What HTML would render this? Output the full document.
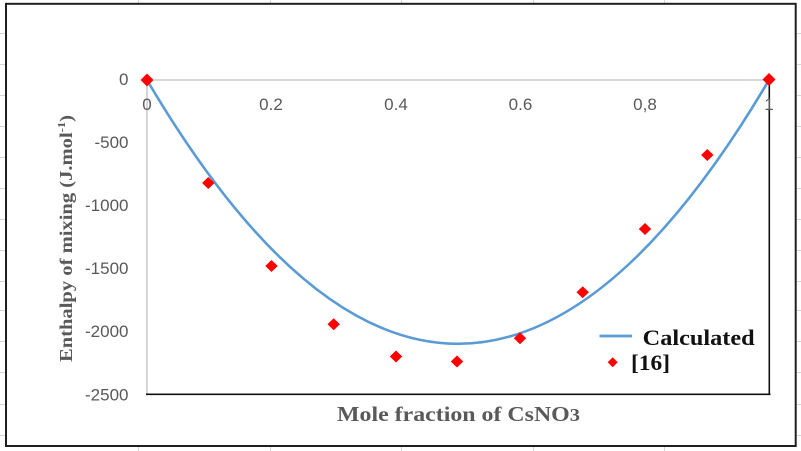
<!DOCTYPE html>
<html>
<head>
<meta charset="utf-8">
<style>
  html, body { margin: 0; padding: 0; background: #ffffff; }
  body { width: 801px; height: 451px; overflow: hidden; }
  svg { display: block; }
  .tick { font-family: "Liberation Sans", "DejaVu Sans", sans-serif; font-size: 17px; fill: #595959; }
  .title { font-family: "Liberation Serif", "DejaVu Serif", serif; font-weight: bold; fill: #595959; }
  .leg { font-family: "Liberation Serif", "DejaVu Serif", serif; font-weight: bold; fill: #111111; }
</style>
</head>
<body>
<svg width="801" height="451" viewBox="0 0 801 451" xmlns="http://www.w3.org/2000/svg">
  <rect x="0" y="0" width="801" height="451" fill="#ffffff"/>
  <!-- faint spreadsheet grid outside chart -->
  <g stroke="#d6d6d6" stroke-width="1">
    <line x1="138.5" y1="0" x2="138.5" y2="3"/>
    <line x1="270.5" y1="0" x2="270.5" y2="3"/>
    <line x1="401.5" y1="0" x2="401.5" y2="3"/>
    <line x1="533.5" y1="0" x2="533.5" y2="3"/>
    <line x1="664.5" y1="0" x2="664.5" y2="3"/>
    <line x1="138.5" y1="447" x2="138.5" y2="451"/>
    <line x1="270.5" y1="447" x2="270.5" y2="451"/>
    <line x1="401.5" y1="447" x2="401.5" y2="451"/>
    <line x1="533.5" y1="447" x2="533.5" y2="451"/>
    <line x1="664.5" y1="447" x2="664.5" y2="451"/>
    <line x1="0" y1="33.5" x2="5" y2="33.5"/><line x1="797" y1="33.5" x2="801" y2="33.5"/>
    <line x1="0" y1="64.5" x2="5" y2="64.5"/><line x1="797" y1="64.5" x2="801" y2="64.5"/>
    <line x1="0" y1="95.5" x2="5" y2="95.5"/><line x1="797" y1="95.5" x2="801" y2="95.5"/>
    <line x1="0" y1="126.5" x2="5" y2="126.5"/><line x1="797" y1="126.5" x2="801" y2="126.5"/>
    <line x1="0" y1="157.5" x2="5" y2="157.5"/><line x1="797" y1="157.5" x2="801" y2="157.5"/>
    <line x1="0" y1="188.5" x2="5" y2="188.5"/><line x1="797" y1="188.5" x2="801" y2="188.5"/>
    <line x1="0" y1="219.5" x2="5" y2="219.5"/><line x1="797" y1="219.5" x2="801" y2="219.5"/>
    <line x1="0" y1="250.5" x2="5" y2="250.5"/><line x1="797" y1="250.5" x2="801" y2="250.5"/>
    <line x1="0" y1="281.5" x2="5" y2="281.5"/><line x1="797" y1="281.5" x2="801" y2="281.5"/>
    <line x1="0" y1="310.5" x2="5" y2="310.5"/><line x1="797" y1="310.5" x2="801" y2="310.5"/>
    <line x1="0" y1="341.5" x2="5" y2="341.5"/><line x1="797" y1="341.5" x2="801" y2="341.5"/>
    <line x1="0" y1="372.5" x2="5" y2="372.5"/><line x1="797" y1="372.5" x2="801" y2="372.5"/>
    <line x1="0" y1="404.5" x2="5" y2="404.5"/><line x1="797" y1="404.5" x2="801" y2="404.5"/>
    <line x1="0" y1="435.5" x2="5" y2="435.5"/><line x1="797" y1="435.5" x2="801" y2="435.5"/>
  </g>
  <!-- chart border -->
  <rect x="6" y="3.8" width="789.7" height="442.2" fill="#ffffff" stroke="#1f1f1f" stroke-width="2"/>

  <!-- axes -->
  <line x1="147" y1="80" x2="769" y2="80" stroke="#c0c0c0" stroke-width="1.3"/>
  <line x1="147" y1="80" x2="147" y2="394" stroke="#c0c0c0" stroke-width="1.3"/>
  <line x1="146" y1="394.3" x2="770.5" y2="394.3" stroke="#111111" stroke-width="1.6"/>
  <line x1="769.3" y1="80" x2="769.3" y2="395" stroke="#111111" stroke-width="1.6"/>

  <!-- y tick labels -->
  <g class="tick" text-anchor="end">
    <text x="128.5" y="85">0</text>
    <text x="128.5" y="148">-500</text>
    <text x="128.5" y="211">-1000</text>
    <text x="128.5" y="274">-1500</text>
    <text x="128.5" y="337">-2000</text>
    <text x="128.5" y="400.5">-2500</text>
  </g>
  <!-- x tick labels -->
  <g class="tick" text-anchor="middle">
    <text x="147" y="110">0</text>
    <text x="271" y="110">0.2</text>
    <text x="396" y="110">0.4</text>
    <text x="520.5" y="110">0.6</text>
    <text x="645" y="110">0,8</text>
    <text x="769" y="110">1</text>
  </g>

  <!-- axis titles -->
  <text class="title" font-size="18" transform="translate(72,362) rotate(-90)" textLength="247" lengthAdjust="spacingAndGlyphs">Enthalpy of mixing (J.mol<tspan font-size="11" dy="-7">-1</tspan><tspan dy="7">)</tspan></text>
  <text class="title" font-size="21" x="337" y="421" textLength="243" lengthAdjust="spacingAndGlyphs">Mole fraction of CsNO<tspan font-size="18">3</tspan></text>

  <!-- calculated curve -->
  <path d="M147,80 Q458,607.6 769,80" fill="none" stroke="#5b9bd5" stroke-width="2.6"/>

  <!-- data markers -->
  <g fill="#ff0000">
    <path d="M147,73.5 L153.5,80 L147,86.5 L140.5,80 Z"/>
    <path d="M208.3,177 L214.5,183 L208.3,189 L202.1,183 Z"/>
    <path d="M271.5,260 L277.7,266 L271.5,272 L265.3,266 Z"/>
    <path d="M333.7,318.3 L339.9,324.3 L333.7,330.3 L327.5,324.3 Z"/>
    <path d="M396,350.5 L402.2,356.5 L396,362.5 L389.8,356.5 Z"/>
    <path d="M457,355.5 L463.2,361.5 L457,367.5 L450.8,361.5 Z"/>
    <path d="M520,332.3 L526.2,338.3 L520,344.3 L513.8,338.3 Z"/>
    <path d="M582.7,286.3 L588.9,292.3 L582.7,298.3 L576.5,292.3 Z"/>
    <path d="M645,223 L651.2,229 L645,235 L638.8,229 Z"/>
    <path d="M707.3,149 L713.5,155 L707.3,161 L701.1,155 Z"/>
    <path d="M769,73 L775.5,79.5 L769,86 L762.5,79.5 Z"/>
  </g>

  <!-- legend -->
  <line x1="599.5" y1="336" x2="632" y2="336" stroke="#5b9bd5" stroke-width="2.8"/>
  <text class="leg" font-size="22" x="642.7" y="345" textLength="112" lengthAdjust="spacingAndGlyphs">Calculated</text>
  <path d="M612.7,357.3 L617.7,362.3 L612.7,367.3 L607.7,362.3 Z" fill="#ff0000"/>
  <text class="leg" font-size="22" x="631" y="370" textLength="39" lengthAdjust="spacingAndGlyphs">[16]</text>
</svg>
</body>
</html>
